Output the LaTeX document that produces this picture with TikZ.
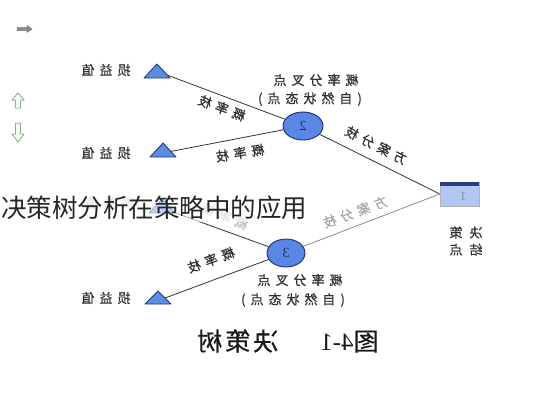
\documentclass[tikz,border=0pt]{standalone}
\usepackage{fontspec}
\usepackage{graphicx}
\newfontfamily\cjk{Noto Sans CJK SC}
\newfontfamily\cjkb[FakeBold=0.5]{Noto Sans CJK SC}
\newfontfamily\serifnum{Liberation Serif}
\usetikzlibrary{shapes.geometric}
\definecolor{triblue}{HTML}{5B8CE0}
\definecolor{tridark}{HTML}{203A80}
\definecolor{nodeblue}{HTML}{5A86E6}
\definecolor{nodedark}{HTML}{1C2D6A}
\definecolor{boxfill}{HTML}{B3C5F3}
\definecolor{boxtop}{HTML}{2A3C86}
\definecolor{txt}{HTML}{303030}
\newcommand{\gp}{\hspace{5pt}}
\newcommand{\mir}[1]{\reflectbox{#1}}
\begin{document}
\begin{tikzpicture}[x=1pt,y=-1pt,
  lbl/.style={font=\cjkb\fontsize{13}{17}\selectfont, text=txt, inner sep=0pt, align=center},
  faded/.style={lbl, text=black!25},
  tri/.style={fill=triblue, draw=tridark, line width=0.9pt, line join=round},
  chance/.style={ellipse, fill=nodeblue, draw=nodedark, line width=0.9pt, minimum width=40pt, minimum height=28pt, inner sep=0pt, font=\serifnum\fontsize{14}{14}\selectfont, text=nodedark},
  branch/.style={draw=black!80, line width=0.8pt},
  lightbranch/.style={draw=black!45, line width=0.8pt},
  arrowicon/.style={draw=black!55, line width=0.5pt, line join=miter},
]
\fill[white] (0,0) rectangle (533,400);

% small icons top left
\filldraw[arrowicon, fill=black!45] (17,27.5) -- (27,27.5) -- (27,25.5) -- (32,29) -- (27,32.5) -- (27,30.5) -- (17,30.5) -- cycle;
\filldraw[arrowicon, fill=green!6!white] (18,93) -- (24,100) -- (20.5,100) -- (20.5,108) -- (15.5,108) -- (15.5,100) -- (12,100) -- cycle;
\filldraw[arrowicon, fill=green!6!white] (15.5,123) -- (20.5,123) -- (20.5,134) -- (24,134) -- (18,142) -- (12,134) -- (15.5,134) -- cycle;

% end points (triangles)
\coordinate (t1) at (167,75);
\coordinate (t2) at (168,152);
\coordinate (t3) at (170,211);
\coordinate (t4) at (165,298);

% nodes
\node[chance] (n2) at (303,126) {\mir{2}};
\node[chance, minimum width=38pt] (n3) at (286,253) {\mir{3}};
\node[draw=black!30, fill=boxfill, minimum width=39pt, minimum height=24pt, inner sep=0pt, line width=0.5pt] (d) at (459.5,194) {};
\fill[boxtop] (d.north west) rectangle ([yshift=-4pt]d.north east);
\node[font=\serifnum\fontsize{13}{13}\selectfont, text=black!45, inner sep=0pt] (d1) at (463,196) {\mir{1}};

% connectors
\draw[branch] (d.west) -- (n2);
\draw[lightbranch] (d.west) -- (n3);
\draw[branch] (n2) -- (t1);
\draw[branch] (n2) -- (t2);
\draw[branch] (n3) -- (t3);
\draw[branch] (n3) -- (t4);

% triangles
\draw[tri] (157,64) -- (170,78) -- (144,78) -- cycle;
\draw[tri] (163,143) -- (176,157) -- (150,157) -- cycle;
\draw[tri] (162,199) -- (175,213) -- (149,213) -- cycle;
\draw[tri] (158,291) -- (171,304) -- (145,304) -- cycle;

% labels
\node[lbl, rotate=-20.7] (p1) at (222,108) {\mir{概\gp{}率\gp{}枝}};
\node[lbl, rotate=9] (p2) at (240,153) {\mir{概\gp{}率\gp{}枝}};
\node[lbl, rotate=20] (p3) at (211,260) {\mir{概\gp{}率\gp{}枝}};
\node[faded, rotate=-23] (p4) at (225,216) {\mir{概\gp{}率\gp{}枝}};
\node[lbl, rotate=-27] (s1) at (376,145) {\mir{方\gp{}案\gp{}分\gp{}枝}};
\node[lbl, text=black!35, rotate=20] (s2) at (355,212) {\mir{方\gp{}案\gp{}分\gp{}枝}};

\node[lbl] (c2a) at (316,80) {\mir{概\gp{}率\gp{}分\gp{}叉\gp{}点}};
\node[lbl] (c2b) at (310,99) {\mir{(\gp{}自\gp{}然\gp{}状\gp{}态\gp{}点\gp{})}};
\node[lbl] (c3a) at (300,280) {\mir{概\gp{}率\gp{}分\gp{}叉\gp{}点}};
\node[lbl] (c3b) at (293,300) {\mir{(\gp{}自\gp{}然\gp{}状\gp{}态\gp{}点\gp{})}};

\node[lbl] (v1) at (106,70) {\mir{损\gp{}益\gp{}值}};
\node[lbl] (v2) at (106,153) {\mir{损\gp{}益\gp{}值}};
\node[faded] (v3) at (110,203) {\mir{损\gp{}益\gp{}值}};
\node[lbl] (v4) at (106,298) {\mir{损\gp{}益\gp{}值}};

\node[lbl] (dl) at (466,241) {\mir{决\hspace{7pt}策}\\\mir{结\hspace{7pt}点}};

% caption
\node[inner sep=0pt, text=black!90, font=\cjkb\fontsize{25}{25}\selectfont] (cap) at (288,341) {\mir{图{\serifnum 4-1}\hspace{42pt}决\hspace{3pt}策\hspace{3pt}树}};

% overlay title
\fill[white, opacity=0.6] (0,194) rectangle (312,222);
\node[anchor=west, inner sep=0pt, text=black!85, font=\cjk\fontsize{25.5}{26}\selectfont] (ov) at (1,208) {决策树分析在策略中的应用};

\useasboundingbox (0,0) rectangle (533,400);
\end{tikzpicture}
\end{document}
